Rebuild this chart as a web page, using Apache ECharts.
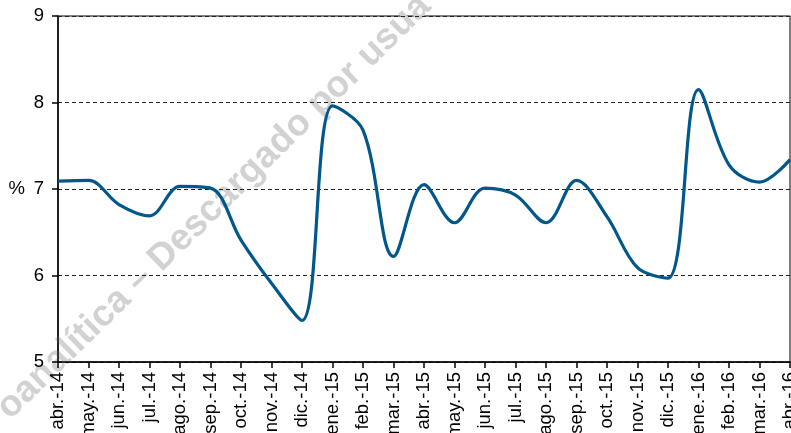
<!DOCTYPE html>
<html>
<head>
<meta charset="utf-8">
<script src="https://cdn.jsdelivr.net/npm/echarts@6/dist/echarts.min.js"></script>
<style>
html,body{margin:0;padding:0;background:#fff;overflow:hidden;}
#c{width:791px;height:433px;}
</style>
</head>
<body>
<div id="c"></div>
<script>
const categories = ['abr.-14','may.-14','jun.-14','jul.-14','ago.-14','sep.-14','oct.-14','nov.-14','dic.-14',
  'ene.-15','feb.-15','mar.-15','abr.-15','may.-15','jun.-15','jul.-15','ago.-15','sep.-15','oct.-15','nov.-15','dic.-15',
  'ene.-16','feb.-16','mar.-16','abr.-16'];
const values = [7.09,7.10,6.82,6.69,7.03,7.01,6.41,5.91,5.48,
  7.96,7.68,6.22,7.05,6.61,7.01,6.93,6.61,7.10,6.68,6.09,5.97,
  8.15,7.28,7.08,7.34];
const yTicks = [5,6,7,8,9];
const watermark = 'oanalítica – Descargado por usua';

const font = 'Liberation Sans, Arial, sans-serif';
const chart = echarts.init(document.getElementById('c'), null, {renderer:'canvas'});
chart.setOption({
  animation: false,
  backgroundColor: '#fff',
  grid: {left: 58, right: 1, top: 16, bottom: 71, show: true, borderColor: '#000', borderWidth: 1,
         containLabel: false, outerBoundsMode: 'none'},
  graphic: [{
    type: 'text', z: 0, x: 214, y: 207, rotation: Math.PI/4 * 0.985,
    style: {text: watermark, fill: '#d2d2d2', font: 'bold 37px ' + font, textAlign: 'center', textVerticalAlign: 'middle'}
  }],
  xAxis: {
    type: 'category', data: categories, boundaryGap: false,
    axisLine: {lineStyle: {color: '#000', width: 1.5}},
    axisTick: {show: true, length: 6, alignWithLabel: true, lineStyle: {color: '#000', width: 1.5}},
    axisLabel: {rotate: 90, interval: 0, margin: 10, color: '#000', fontSize: 18.5, fontFamily: font, hideOverlap: false},
    splitLine: {show: false}
  },
  yAxis: {
    type: 'value', min: yTicks[0], max: yTicks[yTicks.length-1], interval: 1,
    name: '%', nameLocation: 'middle', nameRotate: 0, nameGap: 33,
    nameTextStyle: {color: '#000', fontSize: 18.5, fontFamily: font},
    axisLine: {show: true, lineStyle: {color: '#000', width: 1.5}},
    axisTick: {show: true, length: 6, lineStyle: {color: '#000', width: 1.5}},
    axisLabel: {margin: 14, color: '#000', fontSize: 18.5, fontFamily: font},
    splitLine: {show: true, lineStyle: {color: '#222', type: [4,3], width: 1}}
  },
  series: [{
    type: 'line', data: values, smooth: 0.35, symbol: 'none', z: 5,
    lineStyle: {color: '#00578a', width: 3.2}
  }]
});
</script>
</body>
</html>
